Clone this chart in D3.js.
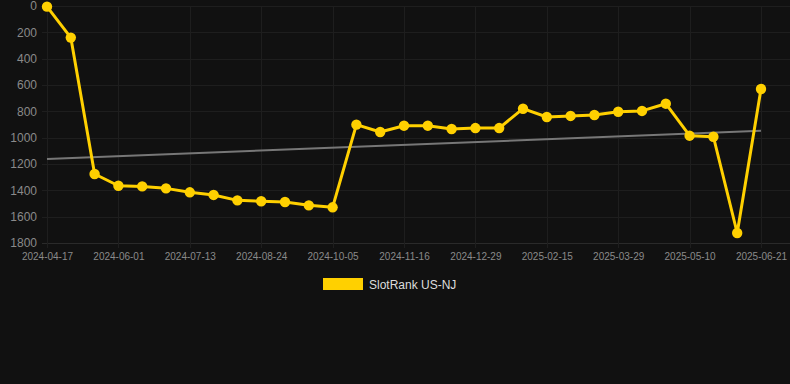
<!DOCTYPE html>
<html>
<head>
<meta charset="utf-8">
<script src="https://cdn.jsdelivr.net/npm/d3@7"></script>
<style>
  html, body { margin: 0; padding: 0; background: #111111; }
  svg { display: block; }
</style>
</head>
<body>
<svg id="chart" width="790" height="384"></svg>
<script>
const dates = [
  "2024-04-17","2024-05-02","2024-05-17","2024-06-01","2024-06-15","2024-06-29",
  "2024-07-13","2024-07-27","2024-08-10","2024-08-24","2024-09-07","2024-09-21",
  "2024-10-05","2024-10-19","2024-11-02","2024-11-16","2024-11-30","2024-12-14",
  "2024-12-29","2025-01-14","2025-01-30","2025-02-15","2025-03-01","2025-03-15",
  "2025-03-29","2025-04-12","2025-04-26","2025-05-10","2025-05-24","2025-06-07",
  "2025-06-21"
];
const ranks = [
  5, 240, 1276, 1365, 1370, 1385,
  1415, 1435, 1476, 1483, 1489, 1514,
  1529, 901, 957, 909, 909, 934,
  927, 927, 780, 843, 835, 828,
  803, 797, 742, 985, 993, 1724,
  630
];
const trendValues = [1162, 947];
const yTicks = [0, 200, 400, 600, 800, 1000, 1200, 1400, 1600, 1800];
const xTickLabels = ["2024-04-17","2024-06-01","2024-07-13","2024-08-24","2024-10-05",
  "2024-11-16","2024-12-29","2025-02-15","2025-03-29","2025-05-10","2025-06-21"];
const seriesName = "SlotRank US-NJ";

const svg = d3.select("#chart");
const plotLeft = 42, plotRight = 790, plotTop = 6, plotBottom = 243;
const gold = "#ffd000";

const x = d3.scalePoint().domain(dates).range([47, 761]);
const y = d3.scaleLinear().domain([0, 1800]).range([plotTop, plotBottom]);

// horizontal grid
svg.append("g").selectAll("line").data(yTicks).join("line")
  .attr("x1", plotLeft).attr("x2", plotRight)
  .attr("y1", d => Math.round(y(d)) + 0.5).attr("y2", d => Math.round(y(d)) + 0.5)
  .attr("stroke", d => d === 1800 ? "#2a2a2a" : "#1e1e1e").attr("stroke-width", 1);

// vertical grid at labelled categories
svg.append("g").selectAll("line").data(xTickLabels).join("line")
  .attr("x1", d => Math.round(x(d)) + 0.5).attr("x2", d => Math.round(x(d)) + 0.5)
  .attr("y1", plotTop).attr("y2", plotBottom + 5)
  .attr("stroke", "#1e1e1e").attr("stroke-width", 1);

// y axis labels
const yAxis = d3.axisLeft(y).tickValues(yTicks).tickFormat(d3.format("d")).tickSize(0).tickPadding(0);
const yG = svg.append("g").attr("transform", `translate(37,0)`).call(yAxis);
yG.select(".domain").remove();
yG.selectAll("text").attr("fill", "#8a8a8a").attr("font-size", 12)
  .attr("font-family", "Liberation Sans, Arial, sans-serif");

// x axis labels
const xAxis = d3.axisBottom(x).tickValues(xTickLabels).tickSize(0).tickPadding(0);
const xG = svg.append("g").attr("transform", `translate(0,${plotBottom + 10})`).call(xAxis);
xG.select(".domain").remove();
xG.selectAll("text").attr("fill", "#8a8a8a").attr("font-size", 10)
  .attr("font-family", "Liberation Sans, Arial, sans-serif").attr("dy", "0.71em");

// trend line
svg.append("line")
  .attr("x1", x(dates[0])).attr("y1", y(trendValues[0]))
  .attr("x2", x(dates[dates.length - 1])).attr("y2", y(trendValues[1]))
  .attr("stroke", "#777777").attr("stroke-width", 2);

// series line
const line = d3.line().x((d, i) => x(dates[i])).y(d => y(d));
svg.append("path").datum(ranks)
  .attr("d", line).attr("fill", "none")
  .attr("stroke", gold).attr("stroke-width", 3).attr("stroke-linejoin", "round");

svg.append("g").selectAll("circle").data(ranks).join("circle")
  .attr("cx", (d, i) => x(dates[i])).attr("cy", d => y(d))
  .attr("r", 5.2).attr("fill", gold);

// legend
const lg = svg.append("g");
lg.append("rect").attr("x", 323).attr("y", 278).attr("width", 40).attr("height", 12)
  .attr("fill", gold);
lg.append("text").attr("x", 369).attr("y", 288.5).text(seriesName)
  .attr("fill", "#dddddd").attr("font-size", 12)
  .attr("font-family", "Liberation Sans, Arial, sans-serif");
</script>
</body>
</html>
